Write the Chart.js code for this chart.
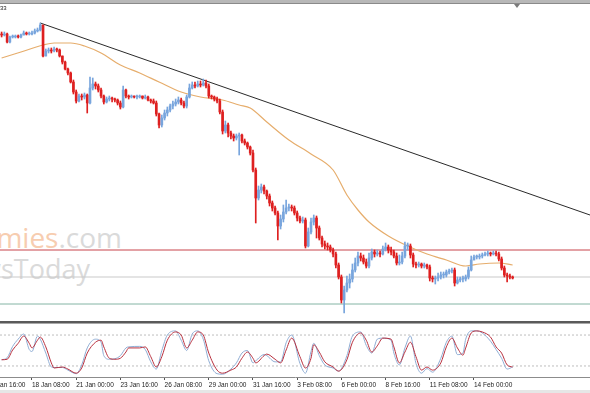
<!DOCTYPE html>
<html>
<head>
<meta charset="utf-8">
<script src="https://cdn.jsdelivr.net/npm/chart.js@4.4.1/dist/chart.umd.min.js"></script>
<style>
  html, body { margin: 0; padding: 0; background: #fff; }
  body { width: 590px; height: 393px; position: relative; overflow: hidden; font-family: 'Liberation Sans', Arial, sans-serif; }
  .abs { position: absolute; }
  #topBar { left: 0; top: 0; width: 590px; height: 3px; background: #b8b8b8; border-bottom: 1px solid #8a8a8a; }
  #shiftMark { left: 514px; top: 4px; width: 0; height: 0; border-left: 3px solid transparent; border-right: 3px solid transparent; border-top: 4px solid #7a7a7a; }
  #sep { left: 0; top: 321px; width: 590px; height: 2px; background: #5a5a5a; border-bottom: 1px solid #a8a8a8; }
  #bottomStrip { left: 0; top: 390px; width: 590px; height: 3px; background: #e6e6e6; }
  #title { left: 0; top: 5px; font-size: 6px; color: #222; }
  .wm { white-space: nowrap; font-family: 'Open Sans', sans-serif; text-align: right; }
  #wm1 { right: 468px; top: 223px; font-size: 28px; line-height: 28px; }
  #wm2 { right: 500px; top: 255px; font-size: 27px; line-height: 27px; color: #dadada; }
  #mainChart { left: 0; top: 4px; }
  #stochChart { left: 0; top: 324px; }
</style>
</head>
<body>
<div id="wm1" class="abs wm"><span style="color:#f7cdb0">economies</span><span style="color:#dadada">.com</span></div>
<div id="wm2" class="abs wm">NewsToday</div>
<canvas id="mainChart" class="abs" width="590" height="317"></canvas>
<canvas id="stochChart" class="abs" width="590" height="69"></canvas>
<div id="topBar" class="abs"></div>
<div id="shiftMark" class="abs"></div>
<div id="title" class="abs">33</div>
<div id="sep" class="abs"></div>
<div id="bottomStrip" class="abs"></div>
<script>
// price bars, H4
const firstOpen = 1.1470;
const closes = [
  1.1469,1.1470,1.1462,1.1467,1.1467,1.1468,1.1467,1.1469,1.1471,1.1470,
  1.1470,1.1471,1.1473,1.1474,1.1479,1.1448,1.1453,1.1454,1.1453,1.1455,
  1.1454,1.1448,1.1442,1.1435,1.1431,1.1422,1.1412,1.1403,1.1408,1.1407,
  1.1409,1.1401,1.1416,1.1420,1.1418,1.1414,1.1408,1.1402,1.1405,1.1406,
  1.1405,1.1404,1.1401,1.1397,1.1414,1.1408,1.1407,1.1408,1.1407,1.1407,
  1.1408,1.1406,1.1407,1.1404,1.1403,1.1401,1.1390,1.1379,1.1386,1.1391,
  1.1394,1.1398,1.1400,1.1402,1.1404,1.1401,1.1398,1.1407,1.1416,1.1419,
  1.1418,1.1420,1.1419,1.1421,1.1418,1.1408,1.1407,1.1405,1.1403,1.1392,
  1.1373,1.1379,1.1371,1.1368,1.1366,1.1368,1.1369,1.1363,1.1361,1.1357,
  1.1351,1.1334,1.1306,1.1314,1.1317,1.1313,1.1308,1.1301,1.1296,1.1291,
  1.1278,1.1285,1.1292,1.1296,1.1297,1.1296,1.1291,1.1286,1.1283,1.1284,
  1.1258,1.1272,1.1282,1.1286,1.1276,1.1266,1.1260,1.1258,1.1257,1.1254,
  1.1250,1.1239,1.1227,1.1204,1.1214,1.1221,1.1225,1.1234,1.1241,1.1248,
  1.1246,1.1242,1.1238,1.1246,1.1252,1.1250,1.1251,1.1250,1.1255,1.1257,
  1.1254,1.1252,1.1248,1.1241,1.1242,1.1248,1.1258,1.1258,1.1249,1.1240,
  1.1239,1.1240,1.1238,1.1239,1.1237,1.1226,1.1225,1.1226,1.1227,1.1229,
  1.1229,1.1232,1.1233,1.1234,1.1221,1.1224,1.1225,1.1225,1.1227,1.1234,
  1.1244,1.1247,1.1247,1.1248,1.1249,1.1250,1.1251,1.1250,1.1251,1.1250,
  1.1245,1.1236,1.1229,1.1228,1.1227,1.1226
];
const highs = [
  1.1472,1.1472,1.1471,1.1468,1.1469,1.1469,1.1469,1.1470,1.1473,1.1472,
  1.1472,1.1473,1.1475,1.1476,1.1481,1.1479,1.1455,1.1456,1.1456,1.1457,
  1.1456,1.1455,1.1448,1.1443,1.1436,1.1432,1.1424,1.1414,1.1410,1.1410,
  1.1411,1.1410,1.1427,1.1426,1.1422,1.1420,1.1416,1.1409,1.1407,1.1408,
  1.1407,1.1406,1.1405,1.1403,1.1418,1.1415,1.1409,1.1409,1.1408,1.1409,
  1.1409,1.1408,1.1409,1.1408,1.1405,1.1405,1.1403,1.1391,1.1389,1.1394,
  1.1397,1.1400,1.1403,1.1405,1.1407,1.1406,1.1403,1.1409,1.1420,1.1422,
  1.1422,1.1423,1.1423,1.1425,1.1424,1.1420,1.1409,1.1408,1.1407,1.1405,
  1.1394,1.1383,1.1381,1.1373,1.1370,1.1370,1.1371,1.1370,1.1365,1.1362,
  1.1358,1.1354,1.1336,1.1318,1.1320,1.1319,1.1314,1.1310,1.1303,1.1298,
  1.1293,1.1289,1.1299,1.1304,1.1300,1.1299,1.1298,1.1293,1.1288,1.1287,
  1.1286,1.1276,1.1286,1.1289,1.1288,1.1278,1.1268,1.1263,1.1261,1.1259,
  1.1256,1.1252,1.1241,1.1229,1.1218,1.1228,1.1230,1.1240,1.1246,1.1252,
  1.1251,1.1249,1.1245,1.1251,1.1255,1.1254,1.1254,1.1253,1.1258,1.1261,
  1.1259,1.1257,1.1254,1.1251,1.1249,1.1252,1.1262,1.1261,1.1260,1.1251,
  1.1242,1.1242,1.1241,1.1241,1.1240,1.1239,1.1228,1.1228,1.1231,1.1232,
  1.1232,1.1234,1.1235,1.1236,1.1236,1.1227,1.1227,1.1228,1.1229,1.1237,
  1.1248,1.1249,1.1249,1.1250,1.1251,1.1252,1.1253,1.1252,1.1253,1.1253,
  1.1252,1.1247,1.1238,1.1231,1.1230,1.1228
];
const lows = [
  1.1467,1.1468,1.1461,1.1461,1.1466,1.1466,1.1466,1.1466,1.1469,1.1469,
  1.1469,1.1469,1.1470,1.1472,1.1473,1.1447,1.1448,1.1451,1.1451,1.1452,
  1.1452,1.1447,1.1440,1.1434,1.1429,1.1421,1.1410,1.1401,1.1402,1.1404,
  1.1405,1.1391,1.1400,1.1414,1.1415,1.1412,1.1406,1.1400,1.1401,1.1403,
  1.1402,1.1402,1.1399,1.1395,1.1396,1.1406,1.1405,1.1406,1.1406,1.1405,
  1.1406,1.1405,1.1405,1.1403,1.1401,1.1400,1.1388,1.1376,1.1377,1.1384,
  1.1388,1.1392,1.1395,1.1398,1.1400,1.1399,1.1396,1.1396,1.1406,1.1415,
  1.1416,1.1417,1.1417,1.1418,1.1416,1.1406,1.1405,1.1403,1.1401,1.1390,
  1.1370,1.1371,1.1367,1.1365,1.1363,1.1364,1.1349,1.1361,1.1359,1.1355,
  1.1349,1.1332,1.1281,1.1304,1.1311,1.1310,1.1305,1.1298,1.1293,1.1289,
  1.1264,1.1275,1.1282,1.1290,1.1293,1.1293,1.1289,1.1283,1.1281,1.1281,
  1.1256,1.1257,1.1270,1.1279,1.1266,1.1264,1.1257,1.1255,1.1254,1.1252,
  1.1247,1.1236,1.1225,1.1201,1.1191,1.1212,1.1216,1.1222,1.1232,1.1238,
  1.1243,1.1240,1.1236,1.1236,1.1244,1.1247,1.1248,1.1247,1.1249,1.1253,
  1.1251,1.1249,1.1246,1.1239,1.1239,1.1240,1.1246,1.1254,1.1246,1.1237,
  1.1236,1.1237,1.1236,1.1236,1.1235,1.1223,1.1222,1.1220,1.1223,1.1225,
  1.1226,1.1227,1.1230,1.1231,1.1218,1.1220,1.1222,1.1222,1.1223,1.1225,
  1.1233,1.1244,1.1245,1.1245,1.1246,1.1248,1.1248,1.1248,1.1249,1.1248,
  1.1243,1.1234,1.1227,1.1222,1.1225,1.1225
];

// moving average, read at sample bars
const maIdx = [0,7,15,19,25,30,36,43,50,57,65,72,80,86,90,96,104,112,120,125,129,133,140,147,154,161,168,173,180,185];
const maVal = [1.1446,1.1452,1.1459,1.1461,1.1461,1.1458,1.1451,1.1439,1.1431,1.1422,1.1412,1.1407,1.1404,1.1399,1.1396,
               1.1382,1.1364,1.1350,1.1334,1.1309,1.1294,1.1282,1.1268,1.1258,1.1250,1.1244,1.1238,1.1240,1.1241,1.1239];

// drawn objects
const trendFrom = { bar: 14, price: 1.1481 };
const trendTo = { bar: 213, price: 1.1289 };
const resistance = 1.1254;
const midLevel = 1.1227;
const support = 1.1200;

// stochastic, read at sample bars
const stIdx = [0,2,4,6,8,10,11,13,14,16,18,19,22,24,27,29,31,34,36,37,39,41,43,45,46,50,52,54,56,58,60,63,65,67,69,71,73,75,78,80,
               83,85,87,89,91,92,95,96,99,101,103,105,108,110,112,113,115,117,120,122,125,127,130,132,134,136,138,141,142,144,
               146,148,150,152,154,156,159,161,163,165,167,168,170,172,174,177,179,181,183,185];
const stMain = [32,36,58,72,82,52,48,78,72,45,18,17,17,12,5,22,55,72,66,40,33,34,40,55,57,58,52,28,14,50,80,88,70,50,82,88,72,30,5,4,
                14,26,45,50,26,30,42,40,28,28,65,80,25,6,48,64,40,22,16,10,40,78,86,60,45,72,74,70,45,22,
                55,78,25,6,15,8,35,66,78,42,45,72,88,88,84,68,52,35,14,18];
const stSignal = [32,33,51,64,78,64,55,70,76,57,26,16,18,14,6,16,45,66,70,57,35,33,35,47,55,55,57,38,18,38,70,86,80,55,70,86,80,45,12,6,
                  12,18,35,47,35,26,40,43,33,26,51,74,38,16,35,61,47,28,18,10,32,66,84,70,47,59,74,72,57,26,
                  47,66,38,12,18,12,26,57,74,55,41,55,84,88,86,76,57,45,22,18];
const stLevels = [20, 80];

// time axis
const tickBars = [-5, 11, 27, 43, 59, 75, 91, 107, 123, 139, 155, 171];
const tickLabels = ['15 Jan 16:00','18 Jan 08:00','21 Jan 00:00','23 Jan 16:00','26 Jan 08:00','29 Jan 00:00',
                    '31 Jan 16:00','3 Feb 08:00','6 Feb 00:00','8 Feb 16:00','11 Feb 08:00','14 Feb 00:00'];

const xMin = -0.58, xMax = 213;
const BULL = '#78a5dd', BEAR = '#de2020';

const opens = closes.map((c, i) => i === 0 ? firstOpen : closes[i - 1]);
const candleColor = ctx => closes[ctx.dataIndex] >= opens[ctx.dataIndex] ? BULL : BEAR;
const wicks = closes.map((c, i) => ({ x: i, y: [lows[i], highs[i]] }));
const bodies = closes.map((c, i) => ({ x: i, y: [opens[i], c] }));
const flat = (v, color, extra) => Object.assign({
  type: 'line', data: [{ x: xMin, y: v }, { x: xMax, y: v }],
  borderColor: color, borderWidth: 1, pointRadius: 0, order: 5
}, extra || {});

new Chart(document.getElementById('mainChart').getContext('2d'), {
  type: 'bar',
  data: {
    datasets: [
      flat(resistance, '#c8444c'),
      flat(midLevel, '#c9c9c9'),
      flat(support, '#84b4a4'),
      {
        type: 'line', label: 'Trend',
        data: [{ x: trendFrom.bar, y: trendFrom.price }, { x: trendTo.bar, y: trendTo.price }],
        borderColor: '#2a2a2a', borderWidth: 1, pointRadius: 0, order: 4
      },
      {
        type: 'line', label: 'MA',
        data: maIdx.map((b, i) => ({ x: b, y: maVal[i] })),
        borderColor: '#e6ad6c', borderWidth: 1.2, pointRadius: 0,
        cubicInterpolationMode: 'monotone', order: 3
      },
      {
        label: 'Wicks', data: wicks, backgroundColor: candleColor,
        barThickness: 1, grouped: false, order: 2
      },
      {
        label: 'Bodies', data: bodies, backgroundColor: candleColor,
        barThickness: 2, minBarLength: 1, grouped: false, order: 1
      }
    ]
  },
  options: {
    responsive: false,
    animation: false,
    layout: { padding: 0 },
    plugins: { legend: { display: false }, tooltip: { enabled: false } },
    scales: {
      x: { type: 'linear', display: false, min: xMin, max: xMax, offset: false },
      y: { display: false, min: 1.1183, max: 1.1500 }
    }
  }
});

new Chart(document.getElementById('stochChart').getContext('2d'), {
  type: 'line',
  data: {
    datasets: [
      ...stLevels.map(v => flat(v, '#bdbdbd', { borderDash: [2, 2] })),
      {
        label: 'Main', data: stIdx.map((b, i) => ({ x: b, y: stMain[i] })),
        borderColor: '#8fadd4', borderWidth: 1, pointRadius: 0,
        cubicInterpolationMode: 'monotone', order: 2
      },
      {
        label: 'Signal', data: stIdx.map((b, i) => ({ x: b, y: stSignal[i] })),
        borderColor: '#b8303e', borderWidth: 1, pointRadius: 0,
        cubicInterpolationMode: 'monotone', order: 1
      }
    ]
  },
  options: {
    responsive: false,
    animation: false,
    layout: { padding: 0 },
    plugins: { legend: { display: false }, tooltip: { enabled: false } },
    scales: {
      x: {
        type: 'linear', min: xMin, max: xMax, offset: false,
        afterBuildTicks: scale => { scale.ticks = tickBars.map(v => ({ value: v })); },
        afterFit: scale => { scale.height = 16; scale.paddingLeft = 0; scale.paddingRight = 0; },
        ticks: {
          autoSkip: false, maxRotation: 0, align: 'start', padding: 1,
          color: '#222', font: { family: "'Liberation Sans Narrow', 'Liberation Sans', sans-serif", size: 6.5 },
          callback: v => tickLabels[tickBars.indexOf(v)]
        },
        grid: { drawOnChartArea: false, drawTicks: true, tickLength: 3, color: '#555' },
        border: { display: true, color: '#8c8c8c' }
      },
      y: { display: false, min: -1.4, max: 101.4 }
    }
  }
});
</script>
</body>
</html>
